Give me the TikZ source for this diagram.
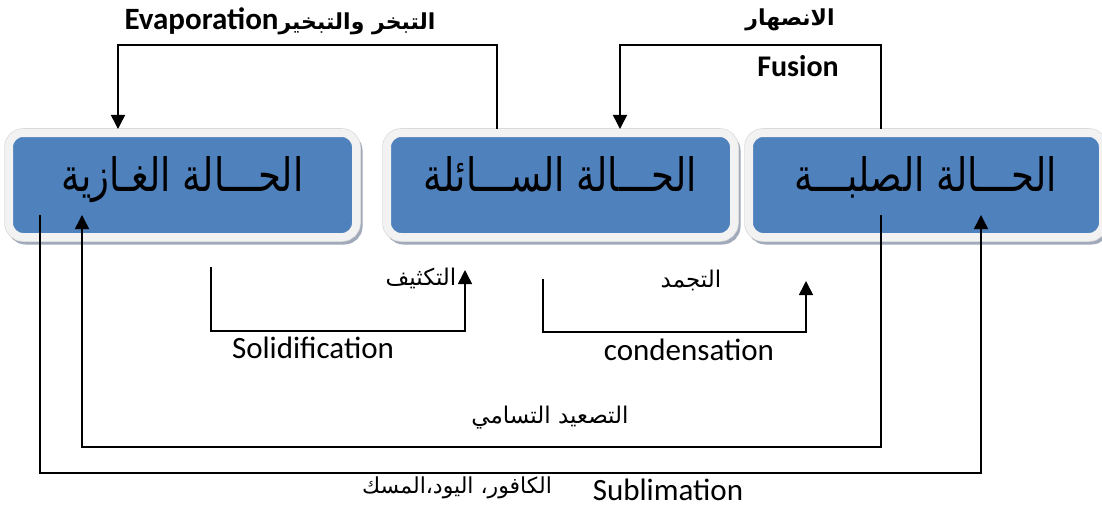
\documentclass[tikz,border=0pt]{standalone}
\usepackage{fontspec}
\setmainfont{Carlito}
\newfontfamily\arabicfont[Script=Arabic]{DejaVu Sans}
\TeXXeTstate=1
\usetikzlibrary{arrows.meta,calc}
\definecolor{boxblue}{RGB}{79,129,189}
\definecolor{framegray}{RGB}{242,242,242}
\definecolor{edgegray}{RGB}{218,218,218}
\definecolor{shadowgray}{RGB}{160,170,186}
\newcommand{\stxt}[1]{\raisebox{-6pt}[0pt][0pt]{\scalebox{1.03}[1.28]{\beginR #1\endR}}}
\begin{document}
\begin{tikzpicture}[x=1pt,y=-1pt,
  statebox/.style={rectangle, rounded corners=14pt, fill=boxblue, draw=framegray,
    line width=8pt, inner sep=0pt, outer sep=0pt, minimum height=104pt,
    font=\arabicfont\fontsize{36}{42}\selectfont,
    preaction={draw=shadowgray, fill=shadowgray, line width=8pt,
      transform canvas={shift={(2.5pt,-3.5pt)}}},
    preaction={draw=edgegray, line width=9.5pt}},
  conn/.style={line width=1.5pt, draw=black},
  arr/.style={conn, -{Triangle[width=14pt,length=14pt]}},
  lat/.style={font=\fontsize{31}{36}\selectfont, inner sep=0pt},
  latb/.style={font=\bfseries\fontsize{30}{36}\selectfont, inner sep=0pt},
  ara/.style={font=\arabicfont\fontsize{23}{27}\selectfont, inner sep=0pt}]
\useasboundingbox (0,0) rectangle (1102,508);
\fill[white] (0,0) rectangle (1102,508);

% boxes
\node[statebox, minimum width=347pt] (gas) at (182.5,185) {\stxt{الحـــالة الغـازية}};
\node[statebox, minimum width=347pt] (liquid) at (560.5,185) {\stxt{الحـــالة الســـائلة}};
\node[statebox, minimum width=354pt] (solid) at (926,185) {\stxt{الحـــالة الصلبـــة}};

% connectors
\draw[arr] ($(liquid.north)+(-63.5,-4)$) -- ++(0,-84) -| ($(gas.north)+(-64.5,-4)$);
\draw[arr] ($(solid.north)+(-45,-4)$) -- ++(0,-84) -| ($(liquid.north)+(59.5,-4)$);
\draw[arr] ($(gas.south)+(28.5,30)$) -- ++(0,64) -| ($(liquid.south west)+(78,33)$);
\draw[arr] ($(liquid.south)+(-17.5,42)$) -- ++(0,53) -| ($(solid.south west)+(57,44)$);
\draw[arr] ($(solid.south)+(-45,-22)$) -- ++(0,232) -| ($(gas.south)+(-100.5,-22)$);
\draw[arr] ($(gas.south)+(-142.5,-22)$) -- ++(0,258) -| ($(solid.south)+(55,-22)$);

% labels
\node[inner sep=0pt] (evap) at (280,21) {{\bfseries\fontsize{31}{36}\selectfont Evaporation}{\arabicfont\bfseries\fontsize{22}{26}\selectfont\beginR التبخر والتبخير\endR}};
\node[ara, font=\arabicfont\bfseries\fontsize{22}{26}\selectfont] (fusar) at (790,20) {\beginR الانصهار\endR};
\node[latb] (fusion) at (798,66) {Fusion};
\node[ara] (conar) at (421,278) {\beginR التكثيف\endR};
\node[ara] (solar) at (691,280) {\beginR التجمد\endR};
\node[lat] (solid-lbl) at (313,348) {Solidification};
\node[lat] (cond-lbl) at (689,350) {condensation};
\node[ara] (subar) at (550,418) {\beginR التصعيد التسامي\endR};
\node[lat] (subl) at (668,490) {Sublimation};
\node[ara, font=\arabicfont\fontsize{22}{26}\selectfont] (subex) at (457,488) {\beginR الكافور، اليود،المسك\endR};
\end{tikzpicture}
\end{document}
